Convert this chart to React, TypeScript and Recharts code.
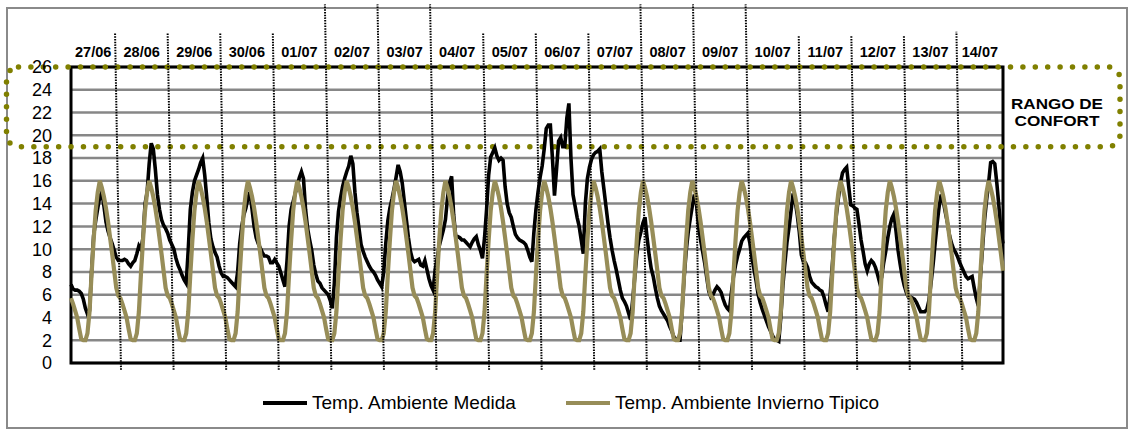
import React from 'react';
import { LineChart, Line, XAxis, YAxis, CartesianGrid, ReferenceLine, ReferenceArea, ReferenceDot } from 'recharts';

// Etiquetas de dia (cajas de texto sobre el grafico)
const fechas = [
  '27/06', '28/06', '29/06', '30/06', '01/07', '02/07', '03/07', '04/07', '05/07',
  '06/07', '07/07', '08/07', '09/07', '10/07', '11/07', '12/07', '13/07', '14/07',
];

// Dia tipico de invierno, 24 valores horarios (se repite cada ciclo)
const perfilTipico = [
  5.7, 5.2, 4.6, 4.0, 3.0, 2.1, 2.0, 2.0, 2.6, 4.5, 7.8, 10.8,
  13.4, 15.0, 16.0, 15.4, 14.6, 13.6, 12.4, 11.0, 9.6, 8.1, 6.6, 5.9,
];

// Temperatura medida, valores horarios agrupados por ciclo de 24 h
const medidaPorCiclo = [
  [6.9, 6.5, 6.4, 6.4, 6.3, 6.1, 5.6, 4.8, 4.3, 4.6, 8.0, 11.2, 12.5, 13.6, 14.6, 15.0, 13.8, 12.4, 11.6, 11.0, 10.5, 9.9, 9.3, 9.0],
  [9.0, 9.0, 9.1, 9.0, 8.7, 8.5, 8.8, 9.0, 9.6, 10.3, 10.0, 11.0, 14.0, 15.0, 17.5, 19.3, 18.8, 17.0, 14.8, 13.5, 12.6, 12.1, 11.8, 11.4],
  [10.8, 10.4, 10.0, 9.2, 8.6, 8.2, 7.7, 7.3, 7.0, 10.0, 13.5, 15.0, 16.0, 16.5, 17.0, 17.6, 18.0, 16.5, 14.5, 12.3, 10.9, 10.2, 9.7, 9.3],
  [8.5, 7.9, 7.6, 7.6, 7.5, 7.3, 7.1, 6.9, 6.7, 8.0, 10.5, 12.0, 13.0, 13.6, 14.5, 15.0, 13.5, 12.0, 11.0, 10.5, 10.1, 9.7, 9.4, 9.4],
  [9.3, 8.8, 8.8, 9.1, 8.8, 8.5, 7.9, 7.3, 6.7, 9.0, 12.0, 13.5, 14.2, 14.9, 15.6, 16.3, 16.8, 16.2, 13.5, 11.8, 10.8, 9.9, 8.6, 7.8],
  [7.2, 7.0, 6.6, 6.4, 6.2, 6.0, 5.5, 4.8, 7.0, 11.0, 13.3, 14.5, 15.5, 16.2, 16.8, 17.3, 18.2, 17.5, 15.0, 13.2, 11.8, 10.4, 9.8, 9.3],
  [8.9, 8.5, 8.2, 8.0, 7.7, 7.3, 7.0, 6.7, 8.0, 10.5, 12.5, 13.6, 14.4, 15.3, 16.3, 17.4, 16.8, 15.8, 14.2, 12.6, 11.0, 9.8, 9.1, 8.9],
  [9.0, 9.1, 8.6, 8.5, 9.0, 8.2, 7.4, 6.8, 6.4, 8.2, 9.2, 10.3, 11.0, 11.7, 12.6, 14.5, 15.8, 16.4, 13.0, 11.1, 11.1, 11.0, 10.8, 10.8],
  [10.6, 10.4, 10.2, 10.6, 10.9, 11.1, 10.4, 9.9, 9.2, 11.0, 13.5, 16.5, 18.1, 18.5, 18.9, 18.2, 17.8, 18.0, 17.8, 15.5, 14.0, 13.2, 12.8, 12.0],
  [11.3, 11.0, 10.8, 10.7, 10.6, 10.4, 9.9, 9.3, 8.9, 11.5, 13.5, 15.0, 16.3, 17.3, 18.8, 20.6, 20.9, 20.9, 18.0, 14.7, 17.0, 19.5, 19.8, 19.0],
  [19.0, 21.5, 22.8, 18.0, 14.8, 13.8, 12.8, 12.0, 10.8, 9.6, 14.0, 16.2, 17.2, 17.9, 18.3, 18.5, 18.6, 18.8, 16.8, 15.3, 13.8, 12.3, 11.0, 9.9],
  [9.0, 8.2, 7.3, 6.4, 5.7, 5.4, 5.0, 4.4, 3.8, 5.5, 7.5, 9.5, 10.8, 11.5, 12.3, 12.8, 11.0, 9.5, 8.3, 7.6, 6.6, 5.7, 5.0, 4.6],
  [4.3, 4.0, 3.7, 3.2, 2.8, 2.3, 2.1, 2.0, 2.0, 4.5, 7.5, 9.8, 11.5, 12.7, 13.8, 14.8, 14.0, 12.0, 10.8, 9.8, 8.8, 7.5, 6.3, 5.8],
  [6.0, 6.4, 6.7, 6.5, 6.2, 5.6, 5.1, 4.8, 4.6, 6.2, 7.6, 8.6, 9.4, 10.0, 10.7, 11.0, 11.2, 11.4, 10.5, 9.2, 8.2, 7.2, 6.0, 5.3],
  [4.7, 4.2, 3.7, 3.2, 2.8, 2.4, 2.1, 2.0, 1.9, 4.0, 6.8, 8.8, 10.6, 11.9, 13.4, 14.9, 14.2, 13.0, 11.5, 9.5, 8.9, 8.8, 8.4, 7.6],
  [7.1, 6.9, 6.7, 6.6, 6.4, 6.3, 5.8, 5.1, 4.5, 6.0, 8.5, 11.0, 13.0, 14.5, 15.8, 16.7, 17.0, 17.2, 15.5, 13.9, 13.8, 13.6, 13.5, 12.2],
  [10.8, 9.8, 8.7, 8.1, 8.7, 9.0, 8.8, 8.4, 7.8, 7.1, 7.5, 8.8, 9.8, 11.0, 12.0, 12.7, 13.1, 11.6, 9.9, 8.7, 7.6, 6.8, 6.2, 5.8],
  [5.8, 5.7, 5.6, 5.3, 4.9, 4.5, 4.5, 4.5, 4.7, 5.5, 7.0, 8.6, 10.5, 12.3, 13.8, 14.8, 14.2, 13.2, 12.3, 11.2, 10.5, 10.0, 9.7, 9.3],
  [8.8, 8.4, 8.0, 7.6, 7.4, 7.5, 7.6, 6.6, 5.7, 5.0, 7.5, 10.0, 12.5, 14.3, 15.8, 17.6, 17.7, 17.5, 15.8, 13.8, 11.5, 10.5],
];

const ticksY = [0, 2, 4, 6, 8, 10, 12, 14, 16, 18, 20, 22, 24, 26];
const rangoConfort = [19, 26];

const series = [
  { key: 'medida', nombre: 'Temp. Ambiente Medida', color: '#000000', grosor: 3.6 },
  { key: 'tipico', nombre: 'Temp. Ambiente Invierno Tipico', color: '#978d58', grosor: 4.2 },
];

const medida = medidaPorCiclo.flat();
const datos = medida.map((v, i) => ({ i, medida: v, tipico: perfilTipico[i % perfilTipico.length] }));
const ultimo = datos.length - 1;

// Separadores de dia: lineas punteadas algo inclinadas (en unidades de datos)
const SEP_X0 = 24.3;
const SEP_PASO = 25.56;
const SEP_INCL = 0.0975;
const SEP_PIE = -0.6;
const sepAlto = [29, 29, 29, 29, 31.5, 31.5, 31.5, 29, 29, 29, 31.5, 31.5, 31.5, 28.8, 28.8, 28.8, 29.1];
const sepX = (k: number, y: number) => SEP_X0 + SEP_PASO * k - SEP_INCL * (y - SEP_PIE);
const Y_FECHA = 27.3;

const FUENTE = '"Liberation Sans", Arial, sans-serif';
const OLIVA = '#808000';

const CajaConfort = (props: any) => {
  const { y, height } = props;
  return (
    <g>
      <rect
        x={6.5}
        y={y}
        width={1113.5}
        height={height}
        rx={12}
        fill="none"
        stroke={OLIVA}
        strokeWidth={5.5}
        strokeDasharray="0 12.4"
        strokeLinecap="round"
      />
      <text x={1057} y={y + 36} textAnchor="middle" dominantBaseline="central" fontFamily={FUENTE}
        fontWeight="bold" fontSize={15.5} textLength={92} lengthAdjust="spacingAndGlyphs">RANGO DE</text>
      <text x={1057} y={y + 53} textAnchor="middle" dominantBaseline="central" fontFamily={FUENTE}
        fontWeight="bold" fontSize={15.5} textLength={85} lengthAdjust="spacingAndGlyphs">CONFORT</text>
    </g>
  );
};

const EtiquetaFecha = (texto: string) => (props: any) => (
  <text x={props.cx} y={props.cy} textAnchor="middle" dominantBaseline="central"
    fontFamily={FUENTE} fontWeight="bold" fontSize={14.5} fill="#000">{texto}</text>
);

export default function App() {
  return (
    <div style={{ position: 'absolute', left: 0, top: 0, width: 1131, height: 435, background: '#fff' }}>
      <div style={{ position: 'absolute', left: 6, top: 7, width: 1118, height: 418, border: '2px solid #8a8a8a' }} />
      <div style={{ position: 'absolute', left: 0, top: 0 }}>
        <LineChart width={1131} height={435} data={datos} margin={{ top: 67, right: 128, bottom: 72, left: 0 }}>
          <CartesianGrid vertical={false} stroke="#878787" strokeWidth={2.5} />
          <XAxis dataKey="i" type="number" domain={[0, ultimo]} hide />
          <YAxis
            domain={[0, 26]}
            ticks={ticksY}
            interval={0}
            width={71}
            axisLine={false}
            tickLine={false}
            tickSize={0}
            tickMargin={19}
            tick={{ fontSize: 18, fill: '#000', fontFamily: FUENTE }}
          />
          {series.map((s) => (
            <Line
              key={s.key}
              type="linear"
              dataKey={s.key}
              stroke={s.color}
              strokeWidth={s.grosor}
              dot={false}
              activeDot={false}
              isAnimationActive={false}
            />
          ))}
          <ReferenceArea x1={0} x2={ultimo} y1={0} y2={26} fill="none" stroke="#000" strokeWidth={3} ifOverflow="visible" />
          {sepAlto.map((alto, k) => (
            <ReferenceLine
              key={`sep-${k}`}
              segment={[{ x: sepX(k, SEP_PIE), y: SEP_PIE }, { x: sepX(k, alto), y: alto }]}
              stroke="#000"
              strokeWidth={2}
              strokeDasharray="1.5 1.2"
              ifOverflow="visible"
            />
          ))}
          {fechas.map((f, k) => {
            const izq = k === 0 ? 0 : sepX(k - 1, Y_FECHA);
            const der = k === fechas.length - 1 ? ultimo : sepX(k, Y_FECHA);
            return (
              <ReferenceDot key={f} x={(izq + der) / 2} y={Y_FECHA} r={1} ifOverflow="visible" shape={EtiquetaFecha(f)} />
            );
          })}
          <ReferenceArea x1={0} x2={ultimo} y1={rangoConfort[0]} y2={rangoConfort[1]} ifOverflow="visible" shape={CajaConfort} />
        </LineChart>
      </div>
      {/* Leyenda */}
      {series.map((s, k) => {
        const izq = k === 0 ? 263 : 566;
        return (
          <div key={s.key} style={{ position: 'absolute', left: izq, top: 392, height: 22, display: 'flex', alignItems: 'center' }}>
            <div style={{ width: 44, height: 4, background: s.color }} />
            <span style={{ marginLeft: 5, fontFamily: FUENTE, fontSize: 19, color: '#000', lineHeight: '22px', whiteSpace: 'nowrap' }}>{s.nombre}</span>
          </div>
        );
      })}
    </div>
  );
}
